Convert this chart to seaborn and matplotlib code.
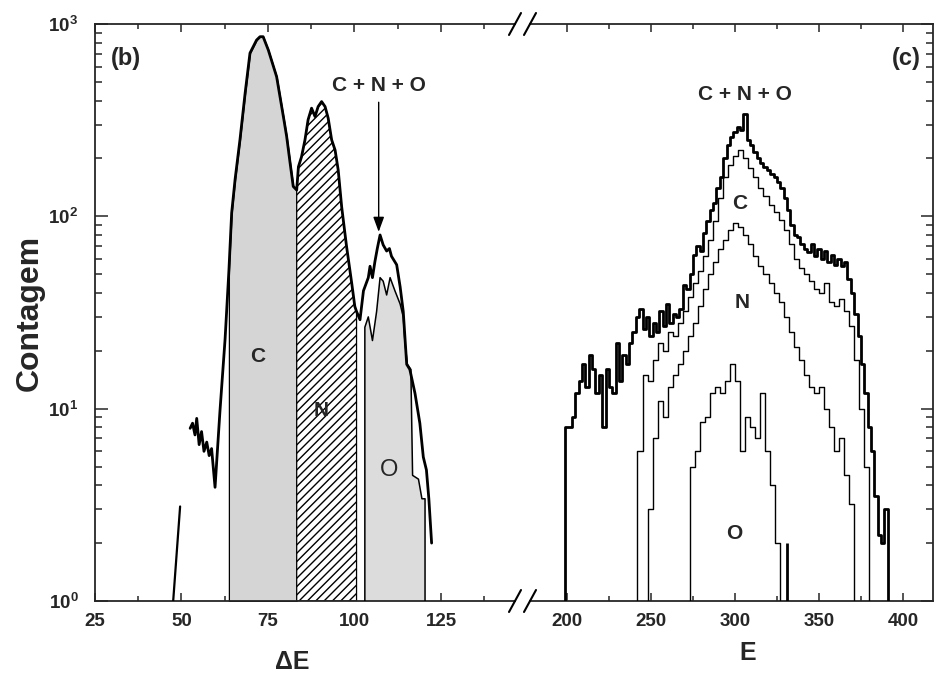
import numpy as np
import matplotlib
matplotlib.use("Agg")
import matplotlib.pyplot as plt
from matplotlib.lines import Line2D
from matplotlib.ticker import NullFormatter
import seaborn as sns

# ---------------- data ----------------
# panel (b): Delta E spectrum
de_pre_x = [47.6, 49.6]
de_pre_y = [1.0, 3.1]
de_tot_x = [52.5, 53.2, 53.9, 54.4, 55.1, 55.8, 56.5, 57.3, 58.0, 58.7, 59.7,
            61.1, 62.6, 63.7, 64.5, 65.5, 66.9, 68.4, 69.8, 71.7, 72.7, 73.6,
            75.1, 77.5, 79.6, 80.4, 81.4, 82.3, 83.3, 83.8, 84.7, 85.7, 86.6,
            87.6, 88.6, 89.5, 90.5, 91.5, 92.4, 93.4, 94.4, 95.3, 96.3, 97.7,
            99.2, 100.1, 100.6, 101.6, 102.6, 104.0, 104.5, 105.2, 105.9, 106.6,
            107.4, 108.3, 109.3, 110.1, 110.7, 112.2, 113.2, 114.1, 115.1, 116.0,
            117.5, 118.9, 119.9, 120.8, 121.5, 122.3]
de_tot_y = [7.9, 8.4, 7.3, 8.9, 6.5, 7.6, 6.0, 6.7, 5.7, 6.2, 3.9,
            9.6, 23, 52, 104, 156, 250, 438, 706, 825, 859, 859,
            732, 532, 318, 260, 189, 143, 137, 181, 204, 250, 318,
            365, 330, 372, 395, 372, 324, 250, 221, 174, 112, 70,
            45, 34, 32, 29, 41, 48, 55, 48, 58, 68,
            80, 71, 66, 68, 62, 56, 43, 32, 17, 16,
            12, 8.4, 5.6, 4.8, 3.4, 2.0]
de_o_x = [103.0, 103.0, 104.0, 105.2, 106.4, 107.4, 108.3, 109.3, 110.3, 111.7,
          113.2, 114.1, 114.6, 115.3, 116.3, 116.8, 118.5, 119.5, 120.4, 120.4]
de_o_y = [1, 26.5, 30, 22.6, 32, 48, 46, 39, 48, 41,
          35, 30, 22, 17, 16, 4.5, 4.3, 3.4, 3.4, 1]
de_c_range = (63.7, 83.3)
de_n_range = (83.3, 100.6)

# panel (c): E spectra (histograms)
e_tot_start, e_tot_bin = 199, 2
e_tot = [8, 8, 9, 12, 14, 17, 13, 19, 16, 12, 15, 8, 16, 13, 12, 22, 14, 19,
         17, 22, 25, 30, 33, 26, 30, 24, 28, 25, 32, 27, 35, 28, 31, 30, 33, 44,
         42, 50, 63, 70, 66, 82, 95, 108, 118, 140, 160, 200, 235, 260, 275, 290,
         280, 340, 250, 235, 215, 200, 190, 180, 175, 165, 160, 150, 140, 125,
         108, 90, 80, 78, 72, 68, 65, 72, 62, 68, 60, 66, 58, 63, 56, 60, 55, 58,
         47, 40, 31, 24, 17, 12, 8, 6, 3.5, 2.2, 2, 3]
e_bin = 3
e_c_start = 242
e_c = [6, 15, 14, 18, 22, 20, 25, 24, 28, 32, 38, 45, 52, 62, 75, 95, 125, 160,
       185, 205, 220, 200, 178, 160, 140, 128, 115, 105, 96, 85, 72, 60, 54, 50,
       46, 42, 40, 45, 36, 34, 37, 32, 27, 18, 10, 5]
e_n_start = 248
e_n = [3, 7, 11, 9, 13, 15, 17, 20, 24, 28, 34, 42, 50, 58, 68, 75, 85, 92, 88,
       80, 72, 62, 55, 50, 45, 40, 36, 30, 25, 21, 18, 15, 13, 12, 13, 10, 8, 6,
       7, 4.5, 3.2]
e_o_start = 273
e_o = [5, 6, 8.5, 9, 12, 13, 12, 14, 17, 14, 6, 9, 8, 7, 12, 6, 4, 2]
e_spike_x = [331]
e_spike_y = [2.0]

de_major = [25, 50, 75, 100, 125]
de_minor = [37.5, 62.5, 87.5, 112.5, 137.5]
e_major = [200, 250, 300, 350, 400]
e_minor = [225, 275, 325, 375]
y_ticks = [1, 10, 100, 1000]
y_labels = [r"$\mathbf{10^{0}}$", r"$\mathbf{10^{1}}$", r"$\mathbf{10^{2}}$", r"$\mathbf{10^{3}}$"]

# ---------------- style ----------------
sns.set_style("ticks")
plt.rcParams["font.family"] = ["Liberation Sans", "DejaVu Sans"]
plt.rcParams["font.weight"] = "bold"
plt.rcParams["mathtext.fontset"] = "custom"
plt.rcParams["mathtext.bf"] = "Liberation Sans:bold"
plt.rcParams["mathtext.rm"] = "Liberation Sans:bold"
plt.rcParams["hatch.linewidth"] = 1.0
plt.rcParams["axes.linewidth"] = 1.3

fig = plt.figure(figsize=(9.36, 6.78), dpi=100)
ax1 = fig.add_axes([0.1015, 0.1136, 0.4487, 0.8510])
ax2 = fig.add_axes([0.5662, 0.1136, 0.4306, 0.8510])
for ax in (ax1, ax2):
    ax.set_yscale("log")
    ax.set_ylim(1, 1000)
ax1.set_xlim(25, 146.4)
ax2.set_xlim(178, 417.9)

# ---------------- panel (b) ----------------
tx = np.array(de_tot_x)
ty = np.array(de_tot_y)
mc = (tx >= de_c_range[0]) & (tx <= de_c_range[1])
mn = (tx >= de_n_range[0]) & (tx <= de_n_range[1])
ax1.fill_between(tx[mc], 1, ty[mc], facecolor="#d5d5d5", edgecolor="black", lw=0.9, zorder=1)
ax1.fill_between(tx[mn], 1, ty[mn], facecolor="white", edgecolor="black", hatch="////", lw=0.9, zorder=1)
ax1.fill(de_o_x, de_o_y, facecolor="#dcdcdc", edgecolor="none", zorder=1)

sns.lineplot(x=de_pre_x, y=de_pre_y, sort=False, estimator=None, color="black", lw=1.6, ax=ax1, zorder=3)
sns.lineplot(x=de_tot_x, y=de_tot_y, sort=False, estimator=None, color="black", lw=2.0, ax=ax1, zorder=3)
sns.lineplot(x=de_o_x, y=de_o_y, sort=False, estimator=None, color="black", lw=1.1, ax=ax1, zorder=3)

ax1.text(72.1, 18.6, "C", ha="center", va="center", fontsize=15, fontweight="bold")
ax1.text(90.5, 9.8, "N", ha="center", va="center", fontsize=15, fontweight="bold")
ax1.text(110.0, 4.8, "O", ha="center", va="center", fontsize=17, fontweight="normal")
ax1.annotate("C + N + O", xy=(107.0, 83), xytext=(107.0, 480), ha="center", va="center",
             fontsize=15, fontweight="bold",
             arrowprops=dict(arrowstyle="-|>,head_width=0.22,head_length=0.6", color="black",
                             lw=1.0, shrinkA=3, shrinkB=0))
ax1.text(0.074, 0.94, "(b)", transform=ax1.transAxes, ha="center", va="center",
         fontsize=17, fontweight="bold")

# ---------------- panel (c) ----------------
def steps(start, width, vals):
    edges = start + width * np.arange(len(vals) + 1)
    xs = np.repeat(edges, 2)
    ys = np.concatenate([[1.0], np.repeat(vals, 2), [1.0]])
    return xs, ys

for start, width, vals, lw in [(e_o_start, e_bin, e_o, 1.0), (e_n_start, e_bin, e_n, 1.0),
                               (e_c_start, e_bin, e_c, 1.0), (e_tot_start, e_tot_bin, e_tot, 2.0)]:
    xs, ys = steps(start, width, vals)
    sns.lineplot(x=xs, y=ys, sort=False, estimator=None, color="black", lw=lw, ax=ax2, zorder=3)
ax2.vlines(e_spike_x, 1, e_spike_y, color="black", lw=2.0, zorder=3)

ax2.text(306, 428, "C + N + O", ha="center", va="center", fontsize=15, fontweight="bold")
ax2.text(303, 116, "C", ha="center", va="center", fontsize=15, fontweight="bold")
ax2.text(304, 35.5, "N", ha="center", va="center", fontsize=15, fontweight="bold")
ax2.text(299.6, 2.25, "O", ha="center", va="center", fontsize=15, fontweight="bold")
ax2.text(0.935, 0.94, "(c)", transform=ax2.transAxes, ha="center", va="center",
         fontsize=17, fontweight="bold")

# ---------------- axes styling ----------------
ax1.spines["right"].set_visible(False)
ax2.spines["left"].set_visible(False)
for ax in (ax1, ax2):
    for s in ax.spines.values():
        s.set_linewidth(1.3)
    ax.yaxis.set_minor_formatter(NullFormatter())

ax1.set_xticks(de_major, labels=[str(v) for v in de_major])
ax1.set_xticks(de_minor, minor=True)
ax2.set_xticks(e_major, labels=[str(v) for v in e_major])
ax2.set_xticks(e_minor, minor=True)
ax1.set_yticks(y_ticks, labels=y_labels)
ax2.set_yticks(y_ticks)

for ax in (ax1, ax2):
    ax.tick_params(axis="x", which="both", direction="in", top=True, bottom=True,
                   labelsize=13.5, pad=9, width=1.1)
    ax.tick_params(axis="x", which="major", length=6)
    ax.tick_params(axis="x", which="minor", length=3.5)
ax1.tick_params(axis="y", which="both", direction="in", left=True, right=False,
                labelsize=13.5, pad=12, width=1.1)
ax2.tick_params(axis="y", which="both", direction="in", left=False, right=True,
                labelleft=False, labelright=False, width=1.1)
for ax in (ax1, ax2):
    ax.tick_params(axis="y", which="major", length=9)
    ax.tick_params(axis="y", which="minor", length=5)

ax1.set_xlabel("\u0394E", fontsize=18, fontweight="bold")
ax1.xaxis.set_label_coords(0.47, -0.085)
ax2.set_xlabel("E", fontsize=18, fontweight="bold")
ax2.xaxis.set_label_coords(0.54, -0.07)
ax1.set_ylabel("Contagem", fontsize=23, fontweight="bold")
ax1.yaxis.set_label_coords(-0.12, 0.5)

# axis break marks
def fx(px):
    return px / 936.0

def fy(py):
    return 1 - py / 678.0

for yc in (24, 601):
    for xc in (515, 530):
        fig.add_artist(Line2D([fx(xc - 6), fx(xc + 6)], [fy(yc + 11), fy(yc - 11)],
                              color="black", lw=1.5, transform=fig.transFigure))

fig.savefig("out.png", dpi=100, facecolor="white")
